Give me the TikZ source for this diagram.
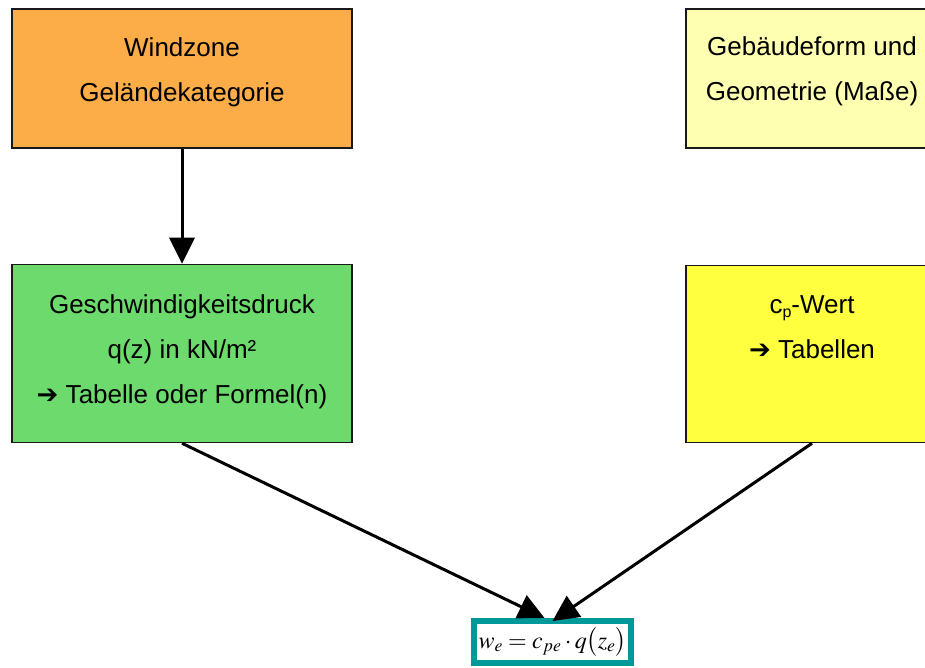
\documentclass[tikz,border=0pt]{standalone}
\usepackage{mathptmx}
\usepackage[no-math]{fontspec}
\setmainfont{Liberation Sans}
\newfontfamily\arrowfont{DejaVu Sans}
\usetikzlibrary{arrows.meta,positioning}

\definecolor{orangefill}{RGB}{253,173,72}
\definecolor{paleyellow}{RGB}{255,255,178}
\definecolor{greenfill}{RGB}{108,218,108}
\definecolor{yellowfill}{RGB}{255,255,64}
\definecolor{tealline}{RGB}{0,153,153}

\tikzset{
  box/.style={draw=black!90, line width=1.5pt, minimum width=340pt, minimum height=139pt, inner sep=0pt},
  boxtext/.style={align=center, inner sep=0pt, font=\fontsize{26}{45}\selectfont},
  bigarrow/.style={-{Triangle[length=26pt,width=25pt]}, line width=3pt}
}

\begin{document}
\begin{tikzpicture}[x=1pt,y=1pt,line width=0.2mm]
    \path[use as bounding box, clip] (0,0) rectangle (925,667);

    %top row
    \node[box, fill=orangefill] (wind) at (182,588.5) {};
    \node[box, fill=paleyellow, minimum width=252pt] (geo) at (812,588.5) {};

    %middle row
    \node[box, fill=greenfill, minimum height=178pt] (qz) [below =115pt of wind] {};
    \node[box, fill=yellowfill, minimum width=252pt, minimum height=177pt] (cp) [below =116pt of geo] {};

    %texts
    \node[boxtext] (wind_t) [below =29pt of wind.north] {Windzone\\Geländekategorie};
    \node[boxtext] (geo_t) [below =28pt of geo.north] {Gebäudeform und\\Geometrie (Maße)};
    \node[boxtext] (qz_t) [below =31pt of qz.north] {Geschwindigkeitsdruck\\q(z) in kN/m²\\{\arrowfont\bfseries ➔} Tabelle oder Formel(n)};
    \node[boxtext] (cp_t) [below =31pt of cp.north] {c\raisebox{-0.15em}{\fontsize{16}{16}\selectfont p}-Wert\\{\arrowfont\bfseries ➔} Tabellen};

    %result
    \node[draw=tealline, line width=6pt, fill=white, minimum width=157pt, minimum height=42pt, inner sep=0pt,
          font=\fontsize{24}{26}\selectfont] (we) at (552.5,25) {$w_e = c_{pe}\cdot q\bigl(z_e\bigr)$};

    %arrows
    \path[bigarrow]
    (wind.south) edge (qz.north)
    (qz.south) edge ([xshift=-8pt]we.north)
    (cp.south) edge ([yshift=-3pt]we.north);
\end{tikzpicture}
\end{document}
